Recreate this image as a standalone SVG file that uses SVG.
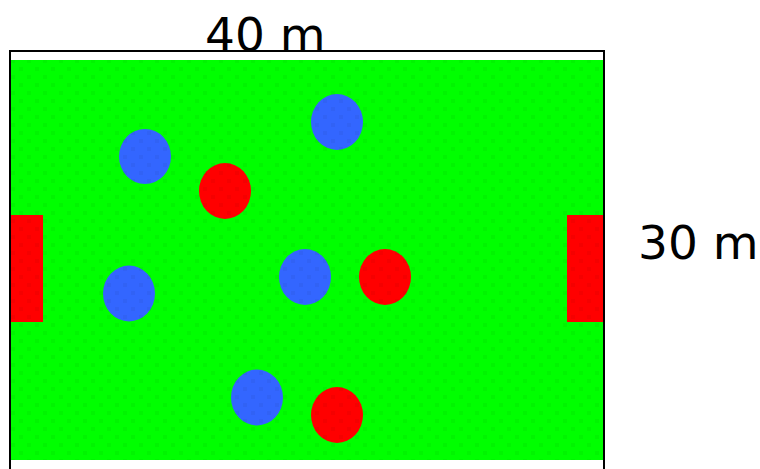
<svg xmlns="http://www.w3.org/2000/svg" width="760" height="469" viewBox="0 0 760 469">
  <style>
    .label { font-family: "DejaVu Sans", "Liberation Sans", sans-serif; font-size: 47px; fill: #000; }
    .blue { fill: #3366ff; }
    .red { fill: #ff0000; }
  </style>
  <defs>
    <pattern id="dots" x="3" y="3" width="16" height="16" patternUnits="userSpaceOnUse">
      <rect x="0" y="0" width="4" height="4" fill="#000" fill-opacity="0.04"/>
      <rect x="8" y="8" width="4" height="4" fill="#000" fill-opacity="0.04"/>
    </pattern>
  </defs>
  <rect width="760" height="469" fill="#fff"/>
  <g id="field">
    <rect x="10" y="51" width="594" height="430" fill="#fff" stroke="#000" stroke-width="2"/>
    <rect x="11" y="60" width="592" height="400" fill="#00ff00"/>
  </g>
  <g id="goal-left"><rect class="red" x="11" y="215" width="32" height="107"/></g>
  <g id="goal-right"><rect class="red" x="567" y="215" width="36" height="107"/></g>
  <g id="blue-1"><ellipse class="blue" cx="145" cy="156.5" rx="26" ry="27.5"/></g>
  <g id="blue-2"><ellipse class="blue" cx="337" cy="122" rx="26" ry="28"/></g>
  <g id="blue-3"><ellipse class="blue" cx="129" cy="293.5" rx="26" ry="28"/></g>
  <g id="blue-4"><ellipse class="blue" cx="305" cy="277" rx="26" ry="28"/></g>
  <g id="blue-5"><ellipse class="blue" cx="257" cy="397.5" rx="26" ry="28"/></g>
  <g id="red-1"><ellipse class="red" cx="225" cy="191" rx="26" ry="28"/></g>
  <g id="red-2"><ellipse class="red" cx="385" cy="277" rx="26" ry="28"/></g>
  <g id="red-3"><ellipse class="red" cx="337" cy="415" rx="26" ry="28"/></g>
  <rect x="11" y="60" width="592" height="400" fill="url(#dots)"/>
  <g id="labels">
    <text class="label" x="205" y="51">40 m</text>
    <text class="label" x="638" y="259">30 m</text>
  </g>
</svg>
